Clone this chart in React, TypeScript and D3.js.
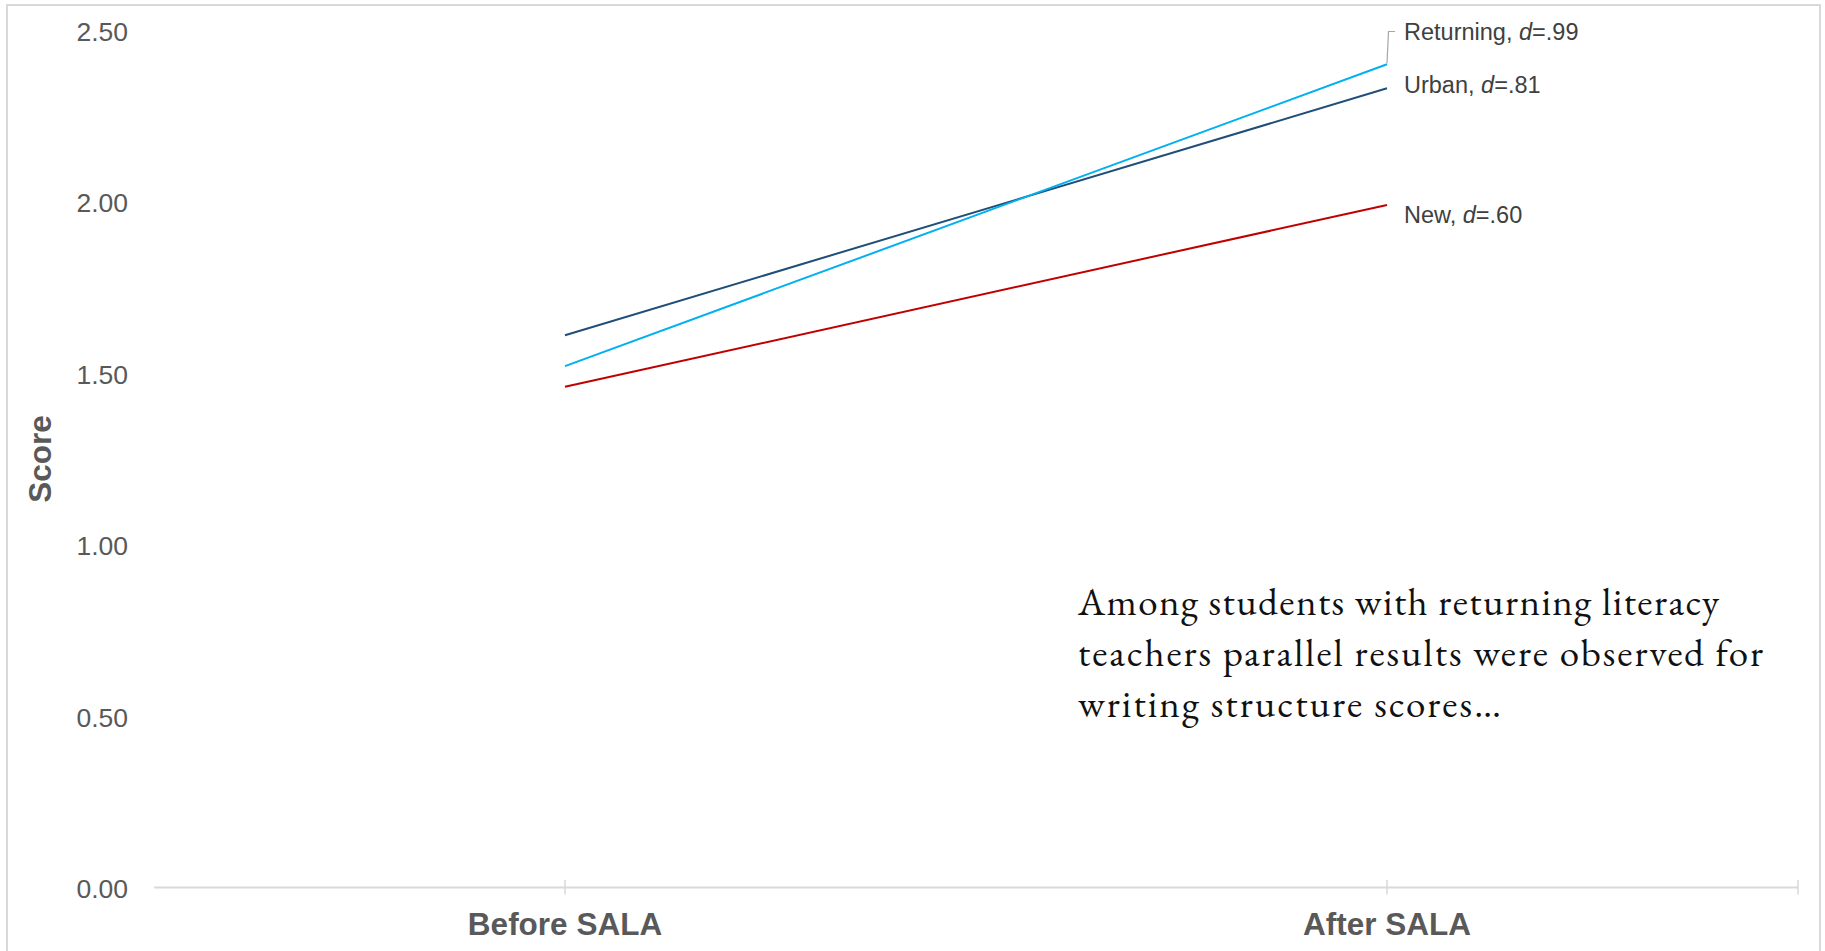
import React from "react";
import * as d3 from "d3";

// Writing structure scores before and after SALA, by teacher group
const phases = ["Before SALA", "After SALA"];
const urbanScores = [1.61, 2.33];
const returningScores = [1.52, 2.4];
const newScores = [1.46, 1.99];
const effectSizes = [".81", ".99", ".60"];
const yTicks = [0, 0.5, 1, 1.5, 2, 2.5];
const noteLines = [
  "Among students with returning literacy",
  "teachers parallel results were observed for",
  "writing structure scores…",
];

const series = [
  { name: "Urban", values: urbanScores, d: effectSizes[0], color: "#1F4E79" },
  { name: "Returning", values: returningScores, d: effectSizes[1], color: "#00B0F0" },
  { name: "New", values: newScores, d: effectSizes[2], color: "#C00000" },
];

const W = 1825;
const H = 951;
const AXIS = "#D9D9D9";
const TEXT = "#595959";
const SANS = "'Liberation Sans', Arial, sans-serif";
const NOTE_WIDTHS = [641, 685, 423];

export default function App() {
  const x = d3.scaleBand<string>().domain(phases).range([154, 1798]).paddingInner(0).paddingOuter(0);
  const y = d3.scaleLinear().domain([0, 2.5]).range([887.5, 30]);
  const cx = (p: string) => (x(p) as number) + x.bandwidth() / 2;

  const line = d3
    .line<number>()
    .x((_, i) => cx(phases[i]))
    .y((v) => y(v));

  const lastX = cx(phases[1]);
  const labelX = lastX + 17;
  // label rows: Urban, Returning (lifted with a leader), New
  const labelY: Record<string, number> = {
    Urban: y(urbanScores[1]) - 3,
    Returning: 31.5,
    New: y(newScores[1]) + 10,
  };

  const ret = series[1];
  const retEndY = y(ret.values[1]);

  return (
    <svg
      width={W}
      height={H}
      style={{ position: "absolute", left: 0, top: 0, background: "#fff" }}
    >
      <rect x={0} y={0} width={W} height={H} fill="#fff" />
      {/* outer frame */}
      <path d={`M7,${H} V5 H1820 V${H}`} fill="none" stroke={AXIS} strokeWidth={2} />

      {/* y tick labels */}
      {yTicks.map((t) => (
        <text
          key={t}
          x={128}
          y={y(t) + 1.5}
          textAnchor="end"
          dominantBaseline="central"
          fontFamily={SANS}
          fontSize={26.5}
          fill={TEXT}
        >
          {d3.format(".2f")(t)}
        </text>
      ))}

      {/* y title */}
      <text
        transform={`translate(40,459) rotate(-90)`}
        textAnchor="middle"
        dominantBaseline="central"
        fontFamily={SANS}
        fontWeight="bold"
        fontSize={31.5}
        fill={TEXT}
      >
        Score
      </text>

      {/* x axis */}
      <line x1={154} x2={1798} y1={y(0)} y2={y(0)} stroke={AXIS} strokeWidth={2} />
      {[cx(phases[0]), cx(phases[1]), 1798].map((tx, i) => (
        <line key={i} x1={tx} x2={tx} y1={y(0) - 7.5} y2={y(0) + 7} stroke={AXIS} strokeWidth={1.5} />
      ))}
      {phases.map((p) => (
        <text
          key={p}
          x={cx(p)}
          y={935}
          textAnchor="middle"
          fontFamily={SANS}
          fontWeight="bold"
          fontSize={31.5}
          fill={TEXT}
        >
          {p}
        </text>
      ))}

      {/* series lines */}
      {series.map((s) => (
        <path key={s.name} d={line(s.values) || ""} fill="none" stroke={s.color} strokeWidth={2} />
      ))}

      {/* leader for the Returning label */}
      <path
        d={`M${lastX},${retEndY - 1} L${lastX + 1.5},${labelY.Returning} H${lastX + 8}`}
        fill="none"
        stroke="#A6A6A6"
        strokeWidth={1.2}
      />

      {/* series labels */}
      {series.map((s) => (
        <text
          key={s.name}
          x={labelX}
          y={labelY[s.name]}
          dominantBaseline="central"
          fontFamily={SANS}
          fontSize={23.5}
          fill="#404040"
        >
          {s.name}, <tspan fontStyle="italic">d</tspan>={s.d}
        </text>
      ))}

      {/* annotation */}
      <g fontFamily="'EB Garamond', Garamond, 'Liberation Serif', 'DejaVu Serif', serif" fontSize={39} fill="#111">
        {noteLines.map((t, i) => (
          <text key={i} x={1078} y={615 + i * 51} textLength={NOTE_WIDTHS[i]} lengthAdjust="spacing">
            {t}
          </text>
        ))}
      </g>
    </svg>
  );
}
